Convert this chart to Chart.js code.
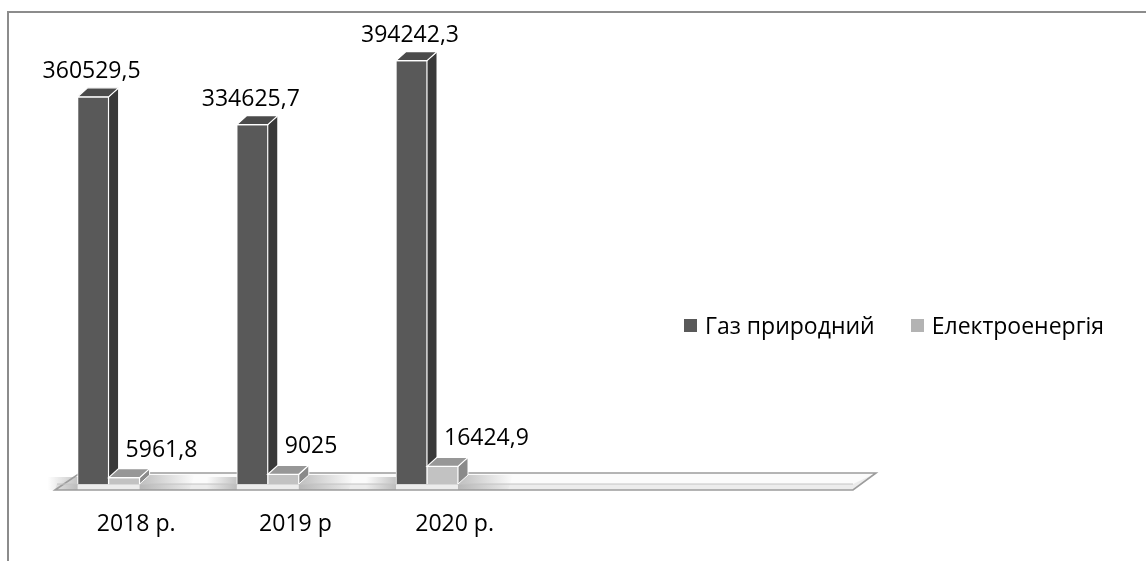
<!DOCTYPE html>
<html>
<head>
<meta charset="utf-8">
<script src="https://cdn.jsdelivr.net/npm/chart.js@4.4.0/dist/chart.umd.min.js"></script>
<style>
html,body{margin:0;padding:0;background:#fff;}
#wrap{position:relative;width:1146px;height:561px;overflow:hidden;background:#fff;}
#frame{position:absolute;left:7px;top:11px;width:1300px;height:700px;border-left:2px solid #8c8c8c;border-top:2px solid #8c8c8c;box-sizing:border-box;}
#c{position:absolute;left:0;top:0;}
#legend{position:absolute;left:684px;top:309px;height:32px;display:flex;align-items:center;font-family:"Open Sans",sans-serif;font-size:23px;color:#000;white-space:nowrap;}
#legend .item{display:flex;align-items:center;margin-right:36px;}
#legend .sw{width:13px;height:13px;margin-right:8px;display:inline-block;}
</style>
</head>
<body>
<div id="wrap">
  <div id="frame"></div>
  <canvas id="c" width="1146" height="561"></canvas>
  <div id="legend"></div>
</div>
<script>
// ---- data ----
const categories = ['2018 р.', '2019 р', '2020 р.', '', ''];
const seriesNames = ['Газ природний', 'Електроенергія'];
const gasValues = [360529.5, 334625.7, 394242.3, null, null];
const elecValues = [5961.8, 9025, 16424.9, null, null];
const yMin = 0;
const yMax = 420000;

// ---- styles ----
const FONT = '"Open Sans", sans-serif';
const styles = [
  {front:'#595959', side:'#393939', top:'#4b4b4b', legend:'#595959'},
  {front:'#c2c2c2', side:'#8a8a8a', top:'#979797', legend:'#b3b3b3'}
];
const DX = 10, DY = -9;

function fmt(v){ return String(v).replace('.', ','); }

const legendEl = document.getElementById('legend');
seriesNames.forEach((n,i)=>{
  const it = document.createElement('span'); it.className='item';
  const sw = document.createElement('span'); sw.className='sw'; sw.style.background = styles[i].legend;
  const tx = document.createElement('span'); tx.textContent = n;
  it.appendChild(sw); it.appendChild(tx); legendEl.appendChild(it);
});

const threeD = {
  id:'threeD',
  beforeDatasetsDraw(chart){
    const ctx = chart.ctx, a = chart.chartArea;
    // floor slab
    const fl = a.left + 28, fr = a.right + 28, ft = a.bottom, fb = a.bottom + 6;
    const bdx = 23, bdy = -11;
    ctx.save();
    ctx.beginPath();
    ctx.moveTo(fl, ft); ctx.lineTo(fl + bdx, ft + bdy); ctx.lineTo(fr + bdx, ft + bdy); ctx.lineTo(fr, ft); ctx.closePath();
    ctx.fillStyle = '#fbfbfb'; ctx.fill();
    ctx.beginPath();
    ctx.moveTo(fl, ft); ctx.lineTo(fr, ft); ctx.lineTo(fr + bdx, ft + bdy); ctx.lineTo(fr + bdx - 1, ft + bdy + 1);
    ctx.lineTo(fr, fb); ctx.lineTo(fl - 2, fb); ctx.closePath();
    ctx.fillStyle = '#ececec'; ctx.fill();
    // shadows near bar groups
    const m1 = chart.getDatasetMeta(1);
    m1.data.forEach((b,i)=>{
      if (elecValues[i] == null) return;
      const r = b.x + b.width/2;
      const g = ctx.createLinearGradient(r, 0, r + 55, 0);
      g.addColorStop(0,'rgba(140,140,140,0.55)'); g.addColorStop(1,'rgba(140,140,140,0)');
      ctx.fillStyle = g;
      ctx.beginPath();
      ctx.moveTo(r, ft + bdy + 2); ctx.lineTo(r + 55, ft + bdy + 2); ctx.lineTo(r + 50, fb); ctx.lineTo(r, fb); ctx.closePath();
      ctx.fill();
      const m0b = chart.getDatasetMeta(0).data[i];
      const l = m0b.x - m0b.width/2;
      const g2 = ctx.createLinearGradient(l - 30, 0, l, 0);
      g2.addColorStop(0,'rgba(140,140,140,0)'); g2.addColorStop(1,'rgba(140,140,140,0.5)');
      ctx.fillStyle = g2;
      ctx.fillRect(l - 30, ft + bdy + 4, 30, fb - (ft + bdy + 4));
    });
    ctx.strokeStyle = '#9c9c9c'; ctx.lineWidth = 1.6;
    ctx.beginPath();
    ctx.moveTo(fl - 2, fb); ctx.lineTo(fl + bdx, ft + bdy); ctx.lineTo(fr + bdx, ft + bdy); ctx.lineTo(fr, fb); ctx.closePath();
    ctx.stroke();
    ctx.strokeStyle = '#c4c4c4'; ctx.lineWidth = 1;
    ctx.beginPath(); ctx.moveTo(fl, ft); ctx.lineTo(fr, ft); ctx.stroke();
    // side faces (behind fronts)
    [0,1].forEach(di=>{
      chart.getDatasetMeta(di).data.forEach((b,i)=>{
        const v = di===0 ? gasValues[i] : elecValues[i];
        if (v == null) return;
        const R = b.x + b.width/2;
        ctx.beginPath();
        ctx.moveTo(R, b.y); ctx.lineTo(R + DX, b.y + DY); ctx.lineTo(R + DX, b.base + DY); ctx.lineTo(R, b.base); ctx.closePath();
        ctx.fillStyle = styles[di].side; ctx.fill();
        ctx.strokeStyle = '#ffffff'; ctx.lineWidth = 1; ctx.stroke();
      });
    });
    ctx.restore();
  },
  afterDatasetsDraw(chart){
    const ctx = chart.ctx;
    ctx.save();
    [0,1].forEach(di=>{
      chart.getDatasetMeta(di).data.forEach((b,i)=>{
        const v = di===0 ? gasValues[i] : elecValues[i];
        if (v == null) return;
        const L = b.x - b.width/2, R = b.x + b.width/2;
        ctx.beginPath();
        ctx.moveTo(L, b.y); ctx.lineTo(L + DX, b.y + DY); ctx.lineTo(R + DX, b.y + DY); ctx.lineTo(R, b.y); ctx.closePath();
        ctx.fillStyle = styles[di].top; ctx.fill();
        ctx.strokeStyle = '#ffffff'; ctx.lineWidth = 1.2; ctx.stroke();
      });
    });
    // data labels
    ctx.font = '23px ' + FONT; ctx.fillStyle = '#000'; ctx.textBaseline = 'alphabetic';
    chart.getDatasetMeta(0).data.forEach((b,i)=>{
      if (gasValues[i] == null) return;
      ctx.textAlign = 'center';
      ctx.fillText(fmt(gasValues[i]), b.x - 1.5, b.y - 19);
    });
    chart.getDatasetMeta(1).data.forEach((b,i)=>{
      if (elecValues[i] == null) return;
      ctx.textAlign = 'left';
      ctx.fillText(fmt(elecValues[i]), b.x + 1.5, b.y - 21);
    });
    ctx.restore();
  }
};

function build(){
  new Chart(document.getElementById('c'), {
    type:'bar',
    data:{
      labels: categories,
      datasets:[
        {label: seriesNames[0], data: gasValues, backgroundColor: styles[0].front, borderColor:'#ffffff', borderWidth:1, barThickness:31},
        {label: seriesNames[1], data: elecValues, backgroundColor: styles[1].front, borderColor:'#ffffff', borderWidth:1, barThickness:31}
      ]
    },
    options:{
      responsive:false, animation:false, events:[],
      layout:{padding:{left:29, right:321, top:33, bottom:22}},
      plugins:{legend:{display:false}, tooltip:{enabled:false}},
      scales:{
        x:{
          grid:{display:false, drawTicks:false}, border:{display:false},
          ticks:{font:{family:FONT, size:23}, color:'#000', padding:27, labelOffset:27.6, maxRotation:0, autoSkip:false},
          afterFit(scale){ scale.height = 55; }
        },
        y:{display:false, min:yMin, max:yMax}
      }
    },
    plugins:[threeD]
  });
}
if (document.fonts && document.fonts.load) {
  document.fonts.load('23px "Open Sans"').then(build, build);
} else build();
</script>
</body>
</html>
